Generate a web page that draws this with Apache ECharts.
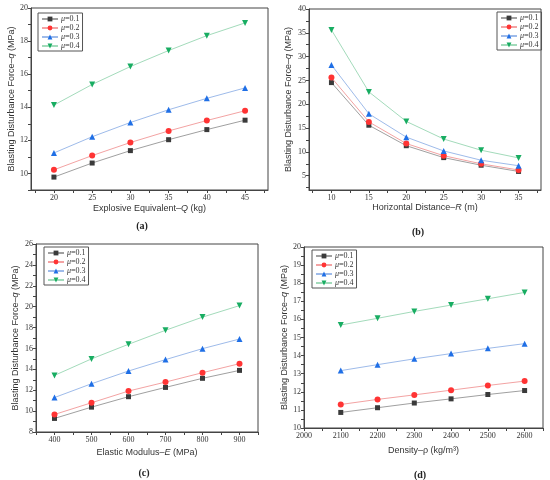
<!DOCTYPE html>
<html>
<head>
<meta charset="utf-8">
<script src="https://cdn.jsdelivr.net/npm/echarts@6/dist/echarts.min.js"></script>
<style>
  html, body { margin: 0; padding: 0; background: #fff; }
  #main { width: 550px; height: 480px; }
</style>
</head>
<body>
<div id="main"></div>
<script>
var muNames = ['μ=0.1', 'μ=0.2', 'μ=0.3', 'μ=0.4'];

// (a) explosive equivalent
var qA = [20, 25, 30, 35, 40, 45];
var aMu1 = [9.78, 10.63, 11.38, 12.04, 12.65, 13.22];
var aMu2 = [10.22, 11.08, 11.87, 12.57, 13.2, 13.79];
var aMu3 = [11.24, 12.22, 13.08, 13.85, 14.54, 15.17];
var aMu4 = [14.13, 15.38, 16.46, 17.43, 18.33, 19.1];
var aXTicks = [20, 25, 30, 35, 40, 45];
var aYTicks = [10, 12, 14, 16, 18, 20];

// (b) horizontal distance
var rB = [10, 15, 20, 25, 30, 35];
var bMu1 = [24.55, 15.6, 11.3, 8.8, 7.2, 5.9];
var bMu2 = [25.6, 16.3, 11.75, 9.2, 7.5, 6.2];
var bMu3 = [28.25, 18.0, 13.1, 10.2, 8.25, 7.1];
var bMu4 = [35.6, 22.6, 16.4, 12.7, 10.35, 8.74];
var bXTicks = [10, 15, 20, 25, 30, 35];
var bYTicks = [5, 10, 15, 20, 25, 30, 35, 40];

// (c) elastic modulus
var eC = [400, 500, 600, 700, 800, 900];
var cMu1 = [9.3, 10.38, 11.38, 12.27, 13.14, 13.9];
var cMu2 = [9.68, 10.8, 11.92, 12.78, 13.68, 14.54];
var cMu3 = [11.3, 12.62, 13.84, 14.93, 15.98, 16.9];
var cMu4 = [13.42, 15.0, 16.4, 17.74, 19.0, 20.1];
var cXTicks = [400, 500, 600, 700, 800, 900];
var cYTicks = [8, 10, 12, 14, 16, 18, 20, 22, 24, 26];

// (d) density
var rhoD = [2100, 2200, 2300, 2400, 2500, 2600];
var dMu1 = [10.86, 11.12, 11.38, 11.61, 11.85, 12.07];
var dMu2 = [11.3, 11.58, 11.83, 12.09, 12.35, 12.59];
var dMu3 = [13.17, 13.5, 13.82, 14.11, 14.4, 14.66];
var dMu4 = [15.69, 16.06, 16.44, 16.79, 17.14, 17.49];
var dXTicks = [2000, 2100, 2200, 2300, 2400, 2500, 2600];
var dYTicks = [10, 11, 12, 13, 14, 15, 16, 17, 18, 19, 20];

var markColors = ['#3a3a3a', '#ff3434', '#1f6fe6', '#18ad62'];
var lineColors = ['#a0a0a0', '#f3a3a3', '#9ebbea', '#a3dbbb'];
var symbols = ['rect', 'circle', 'triangle', 'triangle'];
var symbolRot = [0, 0, 0, 180];
var yTitle = '{n|Blasting Disturbance Force–}{i|q}{n| (MPa)}';

var serif = '"Liberation Serif", "DejaVu Serif", serif';
var sans = '"Liberation Sans", Arial, sans-serif';

// major ticks plus minor ticks halfway between them
function tickValues(ticks, min, max) {
    var step = ticks[1] - ticks[0];
    var out = [];
    for (var v = ticks[0] - step / 2; v <= ticks[ticks.length - 1] + step / 2 + 1e-9; v += step / 2) {
        if (v >= min - 1e-9 && v <= max + 1e-9) out.push(v);
    }
    return out;
}

var panels = [
    {x: qA, ys: [aMu1, aMu2, aMu3, aMu4], grid: [31, 8, 237, 182], xMin: 17, xMax: 48, yMin: 9, yMax: 20,
     xTicks: aXTicks, yTicks: aYTicks, xName: '{n|Explosive Equivalent–}{i|Q}{n| (kg)}', xGap: 14, yGap: 14,
     legend: [38, 13], tag: '(a)', tagPos: [137, 221]},
    {x: rB, ys: [bMu1, bMu2, bMu3, bMu4], grid: [309, 9, 232, 181], xMin: 7, xMax: 38, yMin: 2, yMax: 40,
     xTicks: bXTicks, yTicks: bYTicks, xName: '{n|Horizontal Distance–}{i|R}{n| (m)}', xGap: 12, yGap: 16,
     legend: [497, 12], tag: '(b)', tagPos: [413, 227]},
    {x: eC, ys: [cMu1, cMu2, cMu3, cMu4], grid: [36, 244, 222, 188], xMin: 350, xMax: 950, yMin: 8, yMax: 26,
     xTicks: cXTicks, yTicks: cYTicks, xName: '{n|Elastic Modulus–}{i|E}{n| (MPa)}', xGap: 16, yGap: 16,
     legend: [44, 247], tag: '(c)', tagPos: [139, 468]},
    {x: rhoD, ys: [dMu1, dMu2, dMu3, dMu4], grid: [304, 247, 239, 181], xMin: 2000, xMax: 2650, yMin: 10, yMax: 20,
     xTicks: dXTicks, yTicks: dYTicks, xName: '{n|Density–ρ (kg/m³)}', xGap: 18, yGap: 12,
     legend: [312, 250], tag: '(d)', tagPos: [415, 470]}
];

var option = {
    animation: false,
    backgroundColor: '#fff',
    grid: [], xAxis: [], yAxis: [], series: [], legend: [], title: []
};

var nameRich = {
    n: {fontFamily: sans, fontSize: 9, color: '#333'},
    i: {fontFamily: sans, fontSize: 9, color: '#333', fontStyle: 'italic'}
};

function plainNum(v) { return String(v); }

for (var p = 0; p < panels.length; p++) {
    var P = panels[p];
    option.grid.push({
        left: P.grid[0], top: P.grid[1], width: P.grid[2], height: P.grid[3],
        show: true, borderColor: '#444', borderWidth: 1
    });
    option.xAxis.push({
        type: 'value', gridIndex: p, min: P.xMin, max: P.xMax,
        name: P.xName, nameLocation: 'middle', nameGap: P.xGap,
        nameTextStyle: {rich: nameRich},
        axisLine: {lineStyle: {color: '#444', width: 1}},
        axisTick: {customValues: tickValues(P.xTicks, P.xMin, P.xMax), length: 3, lineStyle: {color: '#444'}},
        axisLabel: {customValues: P.xTicks, formatter: plainNum, fontFamily: serif, fontSize: 8, color: '#333', margin: 4},
        splitLine: {show: false}
    });
    option.yAxis.push({
        type: 'value', gridIndex: p, min: P.yMin, max: P.yMax,
        name: yTitle, nameLocation: 'middle', nameGap: P.yGap, nameRotate: 90,
        nameTextStyle: {rich: nameRich},
        axisLine: {show: true, lineStyle: {color: '#444', width: 1}},
        axisTick: {show: true, customValues: tickValues(P.yTicks, P.yMin, P.yMax), length: 3, lineStyle: {color: '#444'}},
        axisLabel: {customValues: P.yTicks, formatter: plainNum, fontFamily: serif, fontSize: 8, color: '#333', margin: 3},
        splitLine: {show: false}
    });
    for (var s = 0; s < 4; s++) {
        var pts = [];
        for (var k = 0; k < P.x.length; k++) pts.push([P.x[k], P.ys[s][k]]);
        option.series.push({
            name: muNames[s], type: 'line', xAxisIndex: p, yAxisIndex: p,
            data: pts, symbol: symbols[s], symbolRotate: symbolRot[s],
            symbolSize: s === 0 ? 5 : 6, smooth: false, z: 2 + s,
            itemStyle: {color: markColors[s]},
            lineStyle: {color: lineColors[s], width: 1}
        });
    }
    option.legend.push({
        data: muNames, orient: 'vertical', left: P.legend[0], top: P.legend[1],
        borderColor: '#555', borderWidth: 1, padding: [2, 3, 1, 3],
        itemWidth: 16, itemHeight: 6, itemGap: 1,
        selectedMode: false,
        formatter: function (name) { return '{i|μ}{n|' + name.slice(1) + '}'; },
        textStyle: {
            padding: [0, 0, 0, -2],
            rich: {
                i: {fontFamily: serif, fontStyle: 'italic', fontSize: 8, color: '#333', lineHeight: 9},
                n: {fontFamily: serif, fontSize: 8, color: '#333', lineHeight: 9}
            }
        }
    });
    option.title.push({
        text: P.tag, left: P.tagPos[0], top: P.tagPos[1], textAlign: 'center', textVerticalAlign: 'middle',
        textStyle: {fontFamily: serif, fontWeight: 'bold', fontSize: 10, color: '#222'}
    });
}

var myChart = echarts.init(document.getElementById('main'));
myChart.setOption(option);
</script>
</body>
</html>
